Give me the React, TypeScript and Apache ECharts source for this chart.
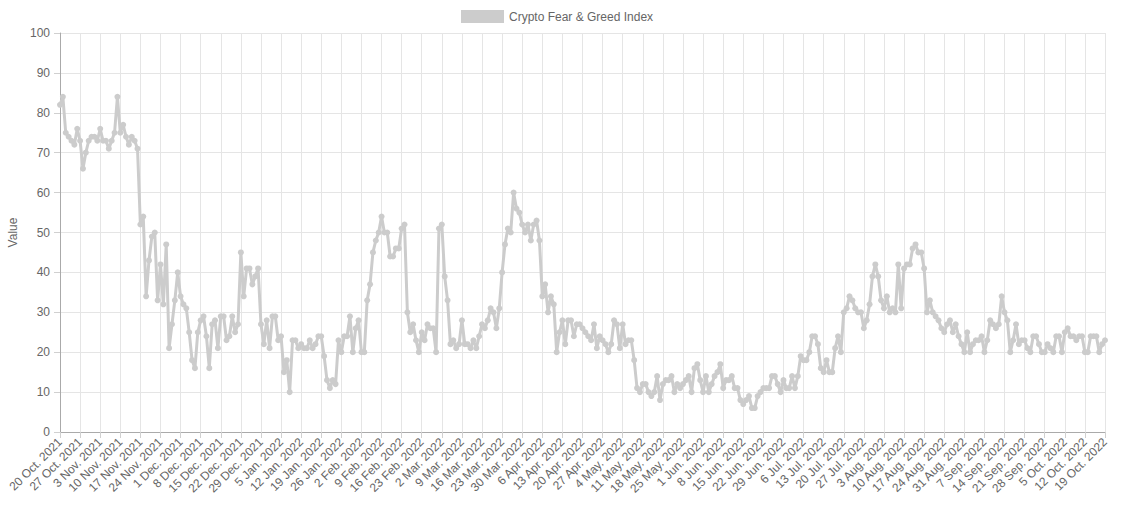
import { useEffect, useRef } from "react";
import * as echarts from "echarts";

// Daily Crypto Fear & Greed Index, 20 Oct 2021 .. 19 Oct 2022
const fngFrom20Oct2021 = [
  82, 84, 75, 74, 73, 72, 76, 73, 66, 70,
  73, 74, 74, 73, 76, 73, 73, 71, 73, 75,
  84, 75, 77, 74, 72, 74, 73, 71, 52, 54,
  34, 43, 49, 50, 33, 42, 32, 47, 21, 27,
  33, 40, 34, 32, 31, 25, 18, 16, 25, 28,
  29, 24, 16, 27, 28, 21, 29, 29, 23, 24,
  29,
];
const fngFrom20Dec2021 = [
  25, 27, 45, 34, 41, 41, 37, 39, 41,
  27, 22, 28, 21, 29, 29, 23, 24, 15, 18,
  10, 23, 23, 21, 22, 21, 21, 23, 21, 22,
  24, 24, 19, 13, 11, 13, 12, 23, 20,
  24, 24, 29, 20, 26, 28, 20, 20, 33, 37,
  45, 48, 50, 54, 50, 50, 44, 44, 46, 46,
  51,
];
const fngFrom18Feb2022 = [
  52,
  30, 25, 27, 23, 20, 25, 23, 27, 26, 26,
  20, 51, 52, 39, 33, 22, 23, 21, 22, 28,
  22, 22, 21, 23, 21, 24, 27, 26, 28, 31,
  30, 26, 31, 40, 47, 51, 50, 60, 56, 55,
  52, 50, 52, 48, 52, 53, 48, 34, 37, 30,
  34, 32, 20, 25, 28, 22, 28, 28, 24,
];
const fngFrom19Apr2022 = [
  27, 27, 26, 25, 24, 23, 27, 21, 24, 23, 22,
  20, 22, 28, 27, 21, 27, 22, 23, 23, 18,
  11, 10,
  12, 12, 10, 9, 10, 14, 8, 12, 13, 13,
  14, 10, 12, 11, 12, 13, 14, 10, 16, 17,
  13, 10, 14, 10, 12, 14, 15, 17, 11, 13,
  13, 14, 11, 11, 8, 7, 8, 9, 6, 6,
  9,
];
const fngFrom21Jun2022 = [
  10, 11, 11, 11, 14, 14, 12, 10, 13, 11,
  11, 14, 11, 14, 19, 18, 18, 20, 24, 24,
  22, 16, 15, 18, 15, 15, 21, 24, 20, 30,
  31, 34, 33, 31, 30, 30, 26, 28, 32, 39,
  42, 39, 33, 31, 34, 30, 31, 30, 42,
  31, 41, 42, 42, 46, 47, 45, 45, 41, 30,
];
const fngFrom19Aug2022 = [
  33, 30, 29, 28, 26, 25, 27, 28, 25, 27,
  24, 22, 20, 25, 20, 22, 23, 23, 24, 20,
  23, 28, 27, 26, 27, 34, 30, 28, 20, 23,
  27, 22, 23, 23, 21, 20, 24, 24, 22, 20,
  20, 22, 21, 20, 24, 24, 20, 25, 26, 24,
  24, 23, 24, 24, 20, 20, 24, 24, 24, 20,
  22, 23,
];

const values = [
  ...fngFrom20Oct2021,
  ...fngFrom20Dec2021,
  ...fngFrom18Feb2022,
  ...fngFrom19Apr2022,
  ...fngFrom21Jun2022,
  ...fngFrom19Aug2022,
];

const monthNames = ["Jan", "Feb", "Mar", "Apr", "May", "Jun", "Jul", "Aug", "Sep", "Oct", "Nov", "Dec"];
const firstDay = Date.UTC(2021, 9, 20);

// one category per day, labelled like "20 Oct. 2021"
const dates = values.map((_, i) => {
  const d = new Date(firstDay + i * 86400000);
  return `${d.getUTCDate()} ${monthNames[d.getUTCMonth()]}. ${d.getUTCFullYear()}`;
});

const FONT = "'Liberation Sans', Arial, Helvetica, sans-serif";
const TEXT = "#666666";
const GRID_LINE = "#e5e5e5";
const LINE = "#cccccc";

export default function App() {
  const chartDiv = useRef<HTMLDivElement>(null);

  useEffect(() => {
    if (!chartDiv.current) return;
    const chart = echarts.init(chartDiv.current, undefined, { renderer: "svg" });

    chart.setOption({
      animation: false,
      textStyle: { fontFamily: FONT },
      legend: {
        top: 10,
        left: 461,
        padding: 0,
        icon: "rect",
        itemWidth: 43,
        itemHeight: 13,
        itemGap: 10,
        textStyle: { color: TEXT, fontSize: 12, fontFamily: FONT },
        data: [{ name: "Crypto Fear & Greed Index", itemStyle: { color: LINE } }],
      },
      grid: { left: 60, right: 19, top: 33, bottom: 80, outerBoundsMode: "none" },
      xAxis: {
        type: "category",
        data: dates,
        boundaryGap: false,
        axisLine: { lineStyle: { color: "#aaaaaa", width: 1 } },
        axisTick: { show: true, interval: 6, length: 6, lineStyle: { color: "#d0d0d0" } },
        axisLabel: {
          interval: 6,
          rotate: 45,
          margin: 8,
          color: TEXT,
          fontSize: 12,
          fontFamily: FONT,
        },
        splitLine: { show: true, interval: 6, lineStyle: { color: GRID_LINE, width: 1 } },
      },
      yAxis: {
        type: "value",
        min: 0,
        max: 100,
        interval: 10,
        name: "Value",
        nameLocation: "middle",
        nameRotate: 90,
        nameGap: 41,
        nameTextStyle: { color: TEXT, fontSize: 12, fontFamily: FONT },
        axisLine: { show: true, lineStyle: { color: "#aaaaaa", width: 1 } },
        axisTick: { show: true, length: 6, lineStyle: { color: "#d0d0d0" } },
        axisLabel: { color: TEXT, fontSize: 12, margin: 10, fontFamily: FONT },
        splitLine: { show: true, lineStyle: { color: GRID_LINE, width: 1 } },
      },
      series: [
        {
          name: "Crypto Fear & Greed Index",
          type: "line",
          data: values,
          symbol: "circle",
          symbolSize: 6,
          showAllSymbol: true,
          lineStyle: { color: LINE, width: 3 },
          itemStyle: { color: LINE },
          emphasis: { disabled: true },
        },
      ],
    });

    return () => {
      chart.dispose();
    };
  }, []);

  return (
    <div
      ref={chartDiv}
      style={{ position: "absolute", left: 0, top: 0, width: 1124, height: 512, background: "#ffffff" }}
    />
  );
}
